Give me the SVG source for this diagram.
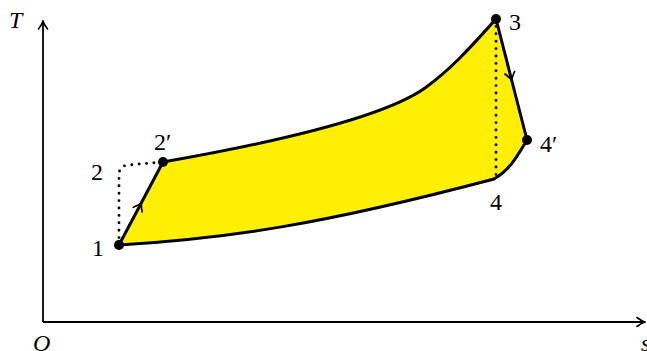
<svg xmlns="http://www.w3.org/2000/svg" width="647" height="351" viewBox="0 0 647 351">
<style>
.lbl{font-family:"Liberation Serif","DejaVu Serif",serif;font-size:24px;fill:#000}
.it{font-style:italic}
.thick{fill:none;stroke:#000;stroke-width:3;stroke-linejoin:round;stroke-linecap:round}
.dot{fill:none;stroke:#000;stroke-width:2.9;stroke-linecap:round;stroke-dasharray:0 7.4}
.axis{fill:none;stroke:#000;stroke-width:1.8}
</style>
<defs>
<marker id="ah" viewBox="-8 -6 10 12" markerWidth="10" markerHeight="12" refX="0" refY="0" orient="auto" markerUnits="userSpaceOnUse">
<path d="M-7,-5 Q-2,-1 1,0 Q-2,1 -7,5" fill="none" stroke="#000" stroke-width="1.7" stroke-linecap="round"/>
</marker>
<marker id="axh" viewBox="-10 -6 12 12" markerWidth="12" markerHeight="12" refX="0" refY="0" orient="auto" markerUnits="userSpaceOnUse">
<path d="M-7,-4.5 Q-2.5,-1 1,0 Q-2.5,1 -7,4.5" fill="none" stroke="#000" stroke-width="1.6" stroke-linecap="round"/>
</marker>
</defs>
<g id="axes">
<path class="axis" d="M43,322 L43,22" marker-end="url(#axh)"/>
<path class="axis" d="M43,322 L644,322" marker-end="url(#axh)"/>
<text class="lbl it" x="9" y="28">T</text>
<text class="lbl it" x="33" y="351">O</text>
<text class="lbl it" x="641" y="351">s</text>
</g>
<g id="region">
<path d="M119,245 L163,162 C260,145 380,120 425,88 C455,66 475,42 496,19 L527,140 C518,155 510,170 494,179 C320,225 230,238 119,245 Z" fill="#FFEF00" stroke="none"/>
</g>
<g id="connectors">
<path class="dot" d="M119,245 L119,175 Q119,166 128,165 L163,162"/>
<path class="dot" d="M496,19 L496,179"/>
<path class="thick" d="M119,245 L141,203.5 L163,162" marker-mid="url(#ah)"/>
<path class="thick" d="M163,162 C260,145 380,120 425,88 C455,66 475,42 496,19"/>
<path class="thick" d="M496,19 L511.5,79.5 L527,140" marker-mid="url(#ah)"/>
<path class="thick" d="M527,140 C518,155 510,170 494,179 C320,225 230,238 119,245"/>
</g>
<g id="p1"><circle cx="119" cy="245" r="5"/><text class="lbl" x="92" y="256">1</text></g>
<g id="p2"><text class="lbl" x="91" y="180">2</text></g>
<g id="p2p"><circle cx="163" cy="162" r="5"/><text class="lbl" x="154" y="150">2′</text></g>
<g id="p3"><circle cx="496" cy="19" r="5"/><text class="lbl" x="509" y="30">3</text></g>
<g id="p4p"><circle cx="527" cy="140" r="5"/><text class="lbl" x="540" y="152">4′</text></g>
<g id="p4"><text class="lbl" x="490" y="210">4</text></g>
</svg>
